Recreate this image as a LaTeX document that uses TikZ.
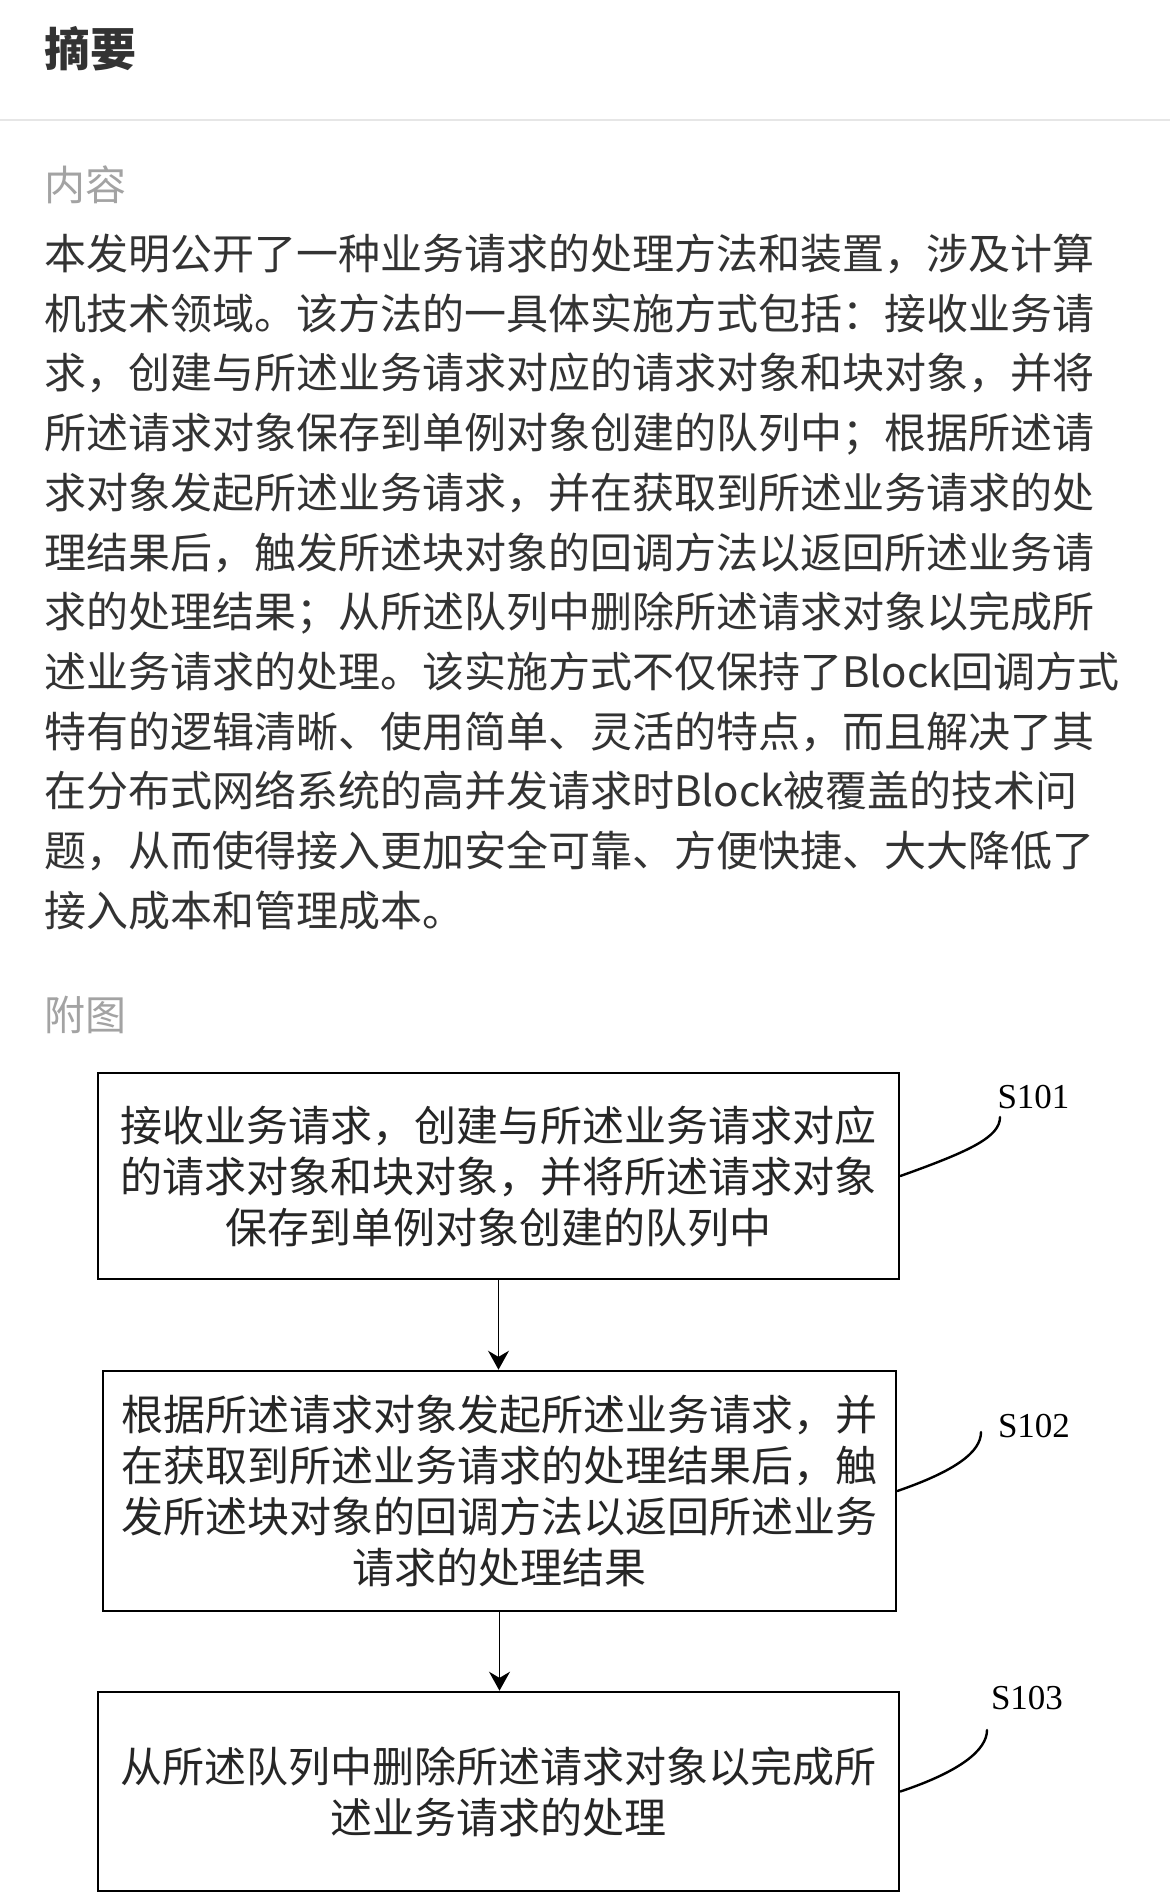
\documentclass[tikz,border=0pt]{standalone}
\usepackage{fontspec}
\setmainfont{Liberation Serif}
\newfontfamily\cjk{Noto Sans CJK SC}
\usetikzlibrary{arrows.meta}
\definecolor{txt}{HTML}{333333}
\definecolor{hint}{HTML}{A3A3A3}
\definecolor{rulecol}{HTML}{E6E6E6}

\begin{document}
\begin{tikzpicture}[x=1pt,y=-1pt,
  stepbox/.style={draw, line width=2.6pt, inner sep=0pt, align=center, text=black!85, font=\cjk\fontsize{42}{51}\selectfont},
  pile/.style={line width=1.6pt, ->, >={Stealth[length=19pt,width=21pt]}},
  lead/.style={line width=2.4pt, line cap=round},
  steplabel/.style={anchor=base, inner sep=0pt, font=\fontsize{35}{35}\selectfont},
  plain/.style={anchor=base west, inner sep=0pt}]

	\useasboundingbox[fill=white] (0,0) rectangle (1170,1903);

	% Header
	\node[plain, text=txt, font=\cjk\bfseries\fontsize{46}{46}\selectfont] (title) at (44,66.5) {摘要};
	\draw[rulecol, line width=2pt] (0,120) -- (1170,120);
	\node[plain, text=hint, font=\cjk\fontsize{41}{41}\selectfont] (content) at (44,200.5) {内容};

	% Abstract text
	\foreach \txtline [count=\i] in {
		本发明公开了一种业务请求的处理方法和装置，涉及计算,
		机技术领域。该方法的一具体实施方式包括：接收业务请,
		求，创建与所述业务请求对应的请求对象和块对象，并将,
		所述请求对象保存到单例对象创建的队列中；根据所述请,
		求对象发起所述业务请求，并在获取到所述业务请求的处,
		理结果后，触发所述块对象的回调方法以返回所述业务请,
		求的处理结果；从所述队列中删除所述请求对象以完成所,
		述业务请求的处理。该实施方式不仅保持了Block回调方式,
		特有的逻辑清晰、使用简单、灵活的特点，而且解决了其,
		在分布式网络系统的高并发请求时Block被覆盖的技术问,
		题，从而使得接入更加安全可靠、方便快捷、大大降低了,
		接入成本和管理成本。}
		\node[plain, text=txt, font=\cjk\fontsize{42}{42}\selectfont] (line\i) at (44,{269.5+(\i-1)*59.7}) {\txtline};

	\node[plain, text=hint, font=\cjk\fontsize{41}{41}\selectfont] (figure) at (44,1030) {附图};

	% Flow chart
	\node[stepbox, minimum width=801pt, minimum height=206pt] (recv) at (498.5,1176)
		{接收业务请求，创建与所述业务请求对应\\的请求对象和块对象，并将所述请求对象\\保存到单例对象创建的队列中};
	\node[stepbox, minimum width=793pt, minimum height=240pt] (call) at (499.5,1491)
		{根据所述请求对象发起所述业务请求，并\\在获取到所述业务请求的处理结果后，触\\发所述块对象的回调方法以返回所述业务\\请求的处理结果};
	\node[stepbox, minimum width=801pt, minimum height=199pt] (del) at (498.5,1791.5)
		{从所述队列中删除所述请求对象以完成所\\述业务请求的处理};

	\draw[pile] (recv.south) -- (recv.south |- call.north);
	\draw[pile] (call.south) -- (call.south |- del.north);

	% Step labels
	\node[steplabel] (l101) at (1033.5,1108) {S101};
	\node[steplabel] (l102) at (1034,1437) {S102};
	\node[steplabel] (l103) at (1027,1709) {S103};

	\coordinate (t101) at (1000,1117);
	\coordinate (t102) at (981,1432);
	\coordinate (t103) at (987,1730);

	\draw[lead] (recv.east) .. controls +(70,-25) and +(0,20) .. (t101);
	\draw[lead] (call.east) .. controls +(58,-20) and +(0,20) .. (t102);
	\draw[lead] (del.east) .. controls +(60,-20) and +(0,20) .. (t103);

\end{tikzpicture}
\end{document}
